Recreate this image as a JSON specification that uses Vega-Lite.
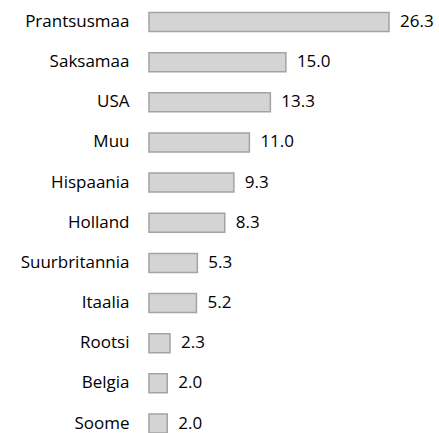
{
  "$schema": "https://vega.github.io/schema/vega-lite/v6.json",
  "width": 240,
  "height": 433,
  "autosize": "none",
  "padding": {"left": 149, "top": 0, "right": 50, "bottom": 0},
  "background": "white",
  "config": {"view": {"stroke": null}, "font": "Open Sans"},
  "data": {"values": [
    {"country": "Prantsusmaa", "value": 26.3},
    {"country": "Saksamaa", "value": 15.0},
    {"country": "USA", "value": 13.3},
    {"country": "Muu", "value": 11.0},
    {"country": "Hispaania", "value": 9.3},
    {"country": "Holland", "value": 8.3},
    {"country": "Suurbritannia", "value": 5.3},
    {"country": "Itaalia", "value": 5.2},
    {"country": "Rootsi", "value": 2.3},
    {"country": "Belgia", "value": 2.0},
    {"country": "Soome", "value": 2.0}
  ]},
  "encoding": {
    "y": {"field": "country", "type": "nominal", "sort": null,
      "scale": {"paddingInner": 0.527, "paddingOuter": 0.156, "align": 1},
      "axis": {"title": null, "domain": false, "ticks": false, "tickSize": 0, "labelPadding": 20, "labelFontSize": 17, "labelFontWeight": "normal", "labelColor": "#000000", "labelFont": "Open Sans"}},
    "x": {"field": "value", "type": "quantitative", "scale": {"domain": [0, 26.3], "nice": false, "zero": true}, "axis": null}
  },
  "layer": [
    {"mark": {"type": "bar", "fill": "#d4d4d4", "stroke": "#a3a3a3", "strokeWidth": 1.5}},
    {"mark": {"type": "text", "align": "left", "baseline": "middle", "dx": 11, "fontSize": 17, "fontWeight": "normal", "color": "#000000", "font": "Open Sans"},
     "encoding": {"text": {"field": "value", "type": "quantitative", "format": ".1f"}}}
  ]
}
